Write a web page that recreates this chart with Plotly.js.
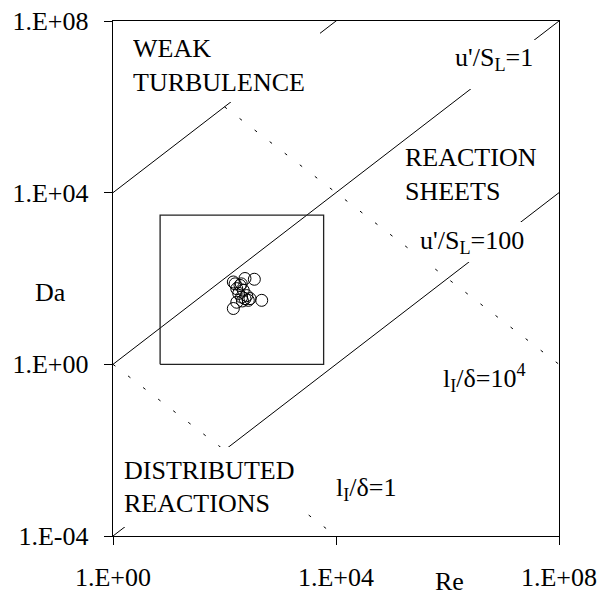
<!DOCTYPE html>
<html><head><meta charset="utf-8">
<script src="https://cdn.plot.ly/plotly-3.0.1.min.js"></script>
<style>html,body{margin:0;padding:0;background:#fff}</style>
</head><body><div id="chart" style="width:602px;height:598px"></div>
<script>
// Tick labels
const xTickVals = [1, 1e4, 1e8];
const xTickText = ['1.E+00', '1.E+04', '1.E+08'];
const yTickVals = [1e-4, 1, 1e4, 1e8];
const yTickText = ['1.E-04', '1.E+00', '1.E+04', '1.E+08'];

// Regime boundary lines (Re, Da)
const reU1 = [1, 1e8];          const daU1 = [1, 1e8];           // u'/SL = 1
const reU100 = [1, 1e8];        const daU100 = [1e-4, 1e4];      // u'/SL = 100
const reU001 = [1, 1.6e4];      const daU001 = [1e4, 1.6e8];     // u'/SL = 0.01
const reL1e4 = [1e2, 1e8];      const daL1e4 = [1e6, 1];         // lI/delta = 1e4
const reL1 = [1, 1.4e4];        const daL1 = [1, 7.1e-5];        // lI/delta = 1

// Box of the operating range
const reBox = [7, 6000, 6000, 7, 7];
const daBox = [1, 1, 3000, 3000, 1];

// Measured points
const reData = [144, 233, 343, 166, 190, 217, 233, 267, 465, 144, 166, 203, 287, 180, 250, 200, 155, 210];
const daData = [83, 100, 96, 58, 69, 53, 34, 31, 31, 20, 28, 37, 34, 45, 40, 75, 75, 30];

const L = 113, R = 559, T = 21, B = 536;
const px = x => (x - L) / (R - L);
const py = y => (B - y) / (B - T);
const FONT = 'Liberation Serif';
const f = (s) => ({family: FONT, size: s, color: '#000'});

const lineStyle = {color: '#000', width: 1};
const dotStyle = {color: '#000', width: 1, dash: '3px,16px'};

const traces = [
  {x: reU1, y: daU1, mode: 'lines', line: lineStyle, cliponaxis: false},
  {x: reU100, y: daU100, mode: 'lines', line: lineStyle, cliponaxis: false},
  {x: reU001, y: daU001, mode: 'lines', line: lineStyle, cliponaxis: false},
  {x: reL1e4, y: daL1e4, mode: 'lines', line: dotStyle, cliponaxis: false},
  {x: reL1, y: daL1, mode: 'lines', line: dotStyle, cliponaxis: false},
  {x: reBox, y: daBox, mode: 'lines', line: {color: '#222', width: 1.3}},
  {x: reData, y: daData, mode: 'markers',
   marker: {symbol: 'circle-open', size: 12, color: '#000', line: {width: 1, color: '#000'}}}
];

function boxAnn(text, left, top, w, h, pad, valign) {
  return {text: text, xref: 'paper', yref: 'paper', x: px(left), y: py(top),
    xanchor: 'left', yanchor: 'top', showarrow: false, align: 'left', valign: valign,
    width: w, height: h, borderpad: pad, borderwidth: 0, bgcolor: '#fff', font: f(26)};
}
function ann(text, left, cy, anchorX) {
  return {text: text, xref: 'paper', yref: 'paper', x: px(left), y: py(cy),
    xanchor: anchorX || 'left', yanchor: 'middle', showarrow: false, align: 'left', font: f(26)};
}

const annotations = [
  boxAnn('WEAK<br>TURBULENCE', 132, 33, 186, 67, 1, 'top'),
  boxAnn("u'/S<sub>L</sub>=1", 452, 40, 82, 43, 3, 'top'),
  boxAnn("u'/S<sub>L</sub>=100", 416, 222, 124, 32, 4, 'top'),
  boxAnn('DISTRIBUTED<br>REACTIONS', 120, 447, 178, 72, 4, 'middle'),
  ann('REACTION<br>SHEETS', 403, 174),
  ann('l<sub>I</sub>/δ=10<sup>4</sup>', 441, 378),
  ann('l<sub>I</sub>/δ=1', 334, 489),
  ann('Da', 51, 293, 'center'),
  ann('Re', 449, 581, 'center')
];

const layout = {
  width: 602, height: 598,
  margin: {l: L, r: 602 - R, t: T, b: 598 - B, pad: 0},
  paper_bgcolor: '#fff', plot_bgcolor: '#fff',
  showlegend: false,
  font: f(26),
  xaxis: {type: 'log', range: [0, 8], tickvals: xTickVals, ticktext: xTickText,
    showgrid: false, zeroline: false, showline: true, mirror: true, linecolor: '#000', linewidth: 1.3,
    ticks: 'outside', ticklen: 8, tickwidth: 1, tickcolor: '#000', tickfont: f(26), ticklabelstandoff: 9,
    fixedrange: true},
  yaxis: {type: 'log', range: [-4, 8], tickvals: yTickVals, ticktext: yTickText,
    showgrid: false, zeroline: false, showline: true, mirror: true, linecolor: '#000', linewidth: 1.3,
    ticks: 'outside', ticklen: 8, tickwidth: 1, tickcolor: '#000', tickfont: f(26), ticklabelstandoff: 10,
    fixedrange: true},
  annotations: annotations
};

Plotly.newPlot('chart', traces, layout, {staticPlot: true});
</script></body></html>
